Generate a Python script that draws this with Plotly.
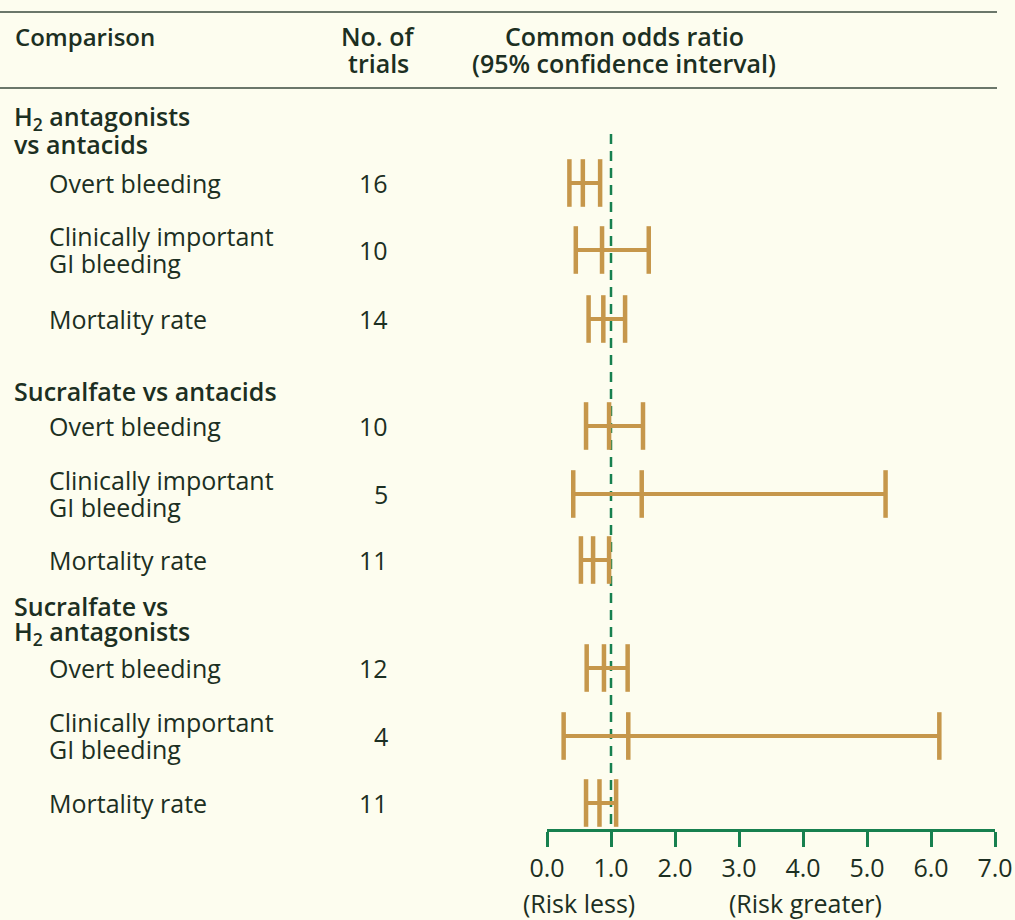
import plotly.graph_objects as go

# ---- data ----
groups = ["H<sub>2</sub> antagonists<br>vs antacids",
          "Sucralfate vs antacids",
          "Sucralfate vs<br>H<sub>2</sub> antagonists"]
outcomes = ["Overt bleeding", "Clinically important<br>GI bleeding", "Mortality rate"]
n_trials = [16, 10, 14, 10, 5, 11, 12, 4, 11]
odds_ratio = [0.56, 0.86, 0.88, 0.97, 1.48, 0.72, 0.89, 1.27, 0.82]
ci_low = [0.35, 0.45, 0.65, 0.61, 0.41, 0.53, 0.62, 0.26, 0.61]
ci_high = [0.83, 1.59, 1.22, 1.50, 5.29, 0.97, 1.26, 6.13, 1.08]
tick_values = [0, 1, 2, 3, 4, 5, 6, 7]
tick_labels = ["0.0", "1.0", "2.0", "3.0", "4.0", "5.0", "6.0", "7.0"]

# ---- layout (page pixels) ----
W, H = 1015, 920
row_y = [183, 250, 319, 426, 494, 560, 668, 736, 803]
group_y = [[117, 144], [391], [606, 632]]
axis_y = 830
x0_px, x7_px = 547, 995

BG = "#FDFDEF"
TXT = "#1C2F22"
GREEN = "#17804F"
TAN = "#C6974B"
FONT = "Open Sans"
FS = 25

fig = go.Figure()

# confidence interval bars
for i in range(len(odds_ratio)):
    fig.add_trace(go.Scatter(
        x=[ci_low[i], ci_high[i]], y=[row_y[i], row_y[i]],
        xaxis="x2", yaxis="y", mode="lines",
        line=dict(color=TAN, width=4), hoverinfo="skip", showlegend=False))
    fig.add_trace(go.Scatter(
        x=[ci_low[i], odds_ratio[i], ci_high[i]], y=[row_y[i]] * 3,
        xaxis="x2", yaxis="y", mode="markers",
        marker=dict(symbol="line-ns", size=34, color=TAN,
                    line=dict(color=TAN, width=4.5)),
        showlegend=False, hoverinfo="skip"))

ann = []

def text(x, y, s, anchor="left", bold=False, size=FS):
    ann.append(dict(x=x, y=y, xref="x", yref="y", text=s, showarrow=False,
                    xanchor=anchor, yanchor="middle", borderpad=0,
                    font=dict(family=FONT, size=size, color=TXT,
                              weight=600 if bold else 400)))

# header
text(14, 36, "Comparison", bold=True, size=24)
text(378, 36, "No. of", anchor="center", bold=True)
text(378, 63, "trials", anchor="center", bold=True)
text(624, 36, "Common odds ratio", anchor="center", bold=True)
text(624, 63, "(95% confidence interval)", anchor="center", bold=True)

# group titles
for g, ys in zip(groups, group_y):
    for line, y in zip(g.split("<br>"), ys):
        text(13, y, line, bold=True)

# row labels and trial counts
for i in range(len(n_trials)):
    label = outcomes[i % 3]
    parts = label.split("<br>")
    if len(parts) == 2:
        text(48, row_y[i] - 14, parts[0])
        text(48, row_y[i] + 13, parts[1])
    else:
        text(48, row_y[i], label)
    text(389, row_y[i], str(n_trials[i]), anchor="right")

text(579, 903, "(Risk less)", anchor="center")
text(805, 903, "(Risk greater)", anchor="center")

shapes = [
    dict(type="line", xref="x", yref="y", x0=0, x1=997, y0=12, y1=12,
         line=dict(color="#3A4A3E", width=1.5)),
    dict(type="line", xref="x", yref="y", x0=0, x1=997, y0=88, y1=88,
         line=dict(color="#3A4A3E", width=1.5)),
    dict(type="line", xref="x2", yref="y", x0=1, x1=1, y0=134, y1=axis_y,
         line=dict(color=GREEN, width=2.5, dash="10px,7px"), layer="below"),
]

fig.update_layout(
    width=W, height=H, margin=dict(l=0, r=0, t=0, b=0, pad=0, autoexpand=False),
    paper_bgcolor=BG, plot_bgcolor="rgba(0,0,0,0)",
    annotations=ann, shapes=shapes, showlegend=False,
    xaxis=dict(range=[0, W], domain=[0, 1], visible=False, fixedrange=True,
               automargin=False),
    yaxis=dict(range=[H, 0], domain=[0, 1], visible=False, fixedrange=True,
               automargin=False),
    xaxis2=dict(range=[0, 7], domain=[x0_px / W, x7_px / W],
                anchor="free", position=1 - axis_y / H, automargin=False,
                showline=True, linecolor=GREEN, linewidth=3,
                ticks="outside", ticklen=15, tickwidth=3, tickcolor=GREEN,
                tickvals=tick_values, ticktext=tick_labels,
                tickfont=dict(family=FONT, size=FS, color=TXT),
                showgrid=False, zeroline=False, fixedrange=True),
)

fig.write_html("out.html")
